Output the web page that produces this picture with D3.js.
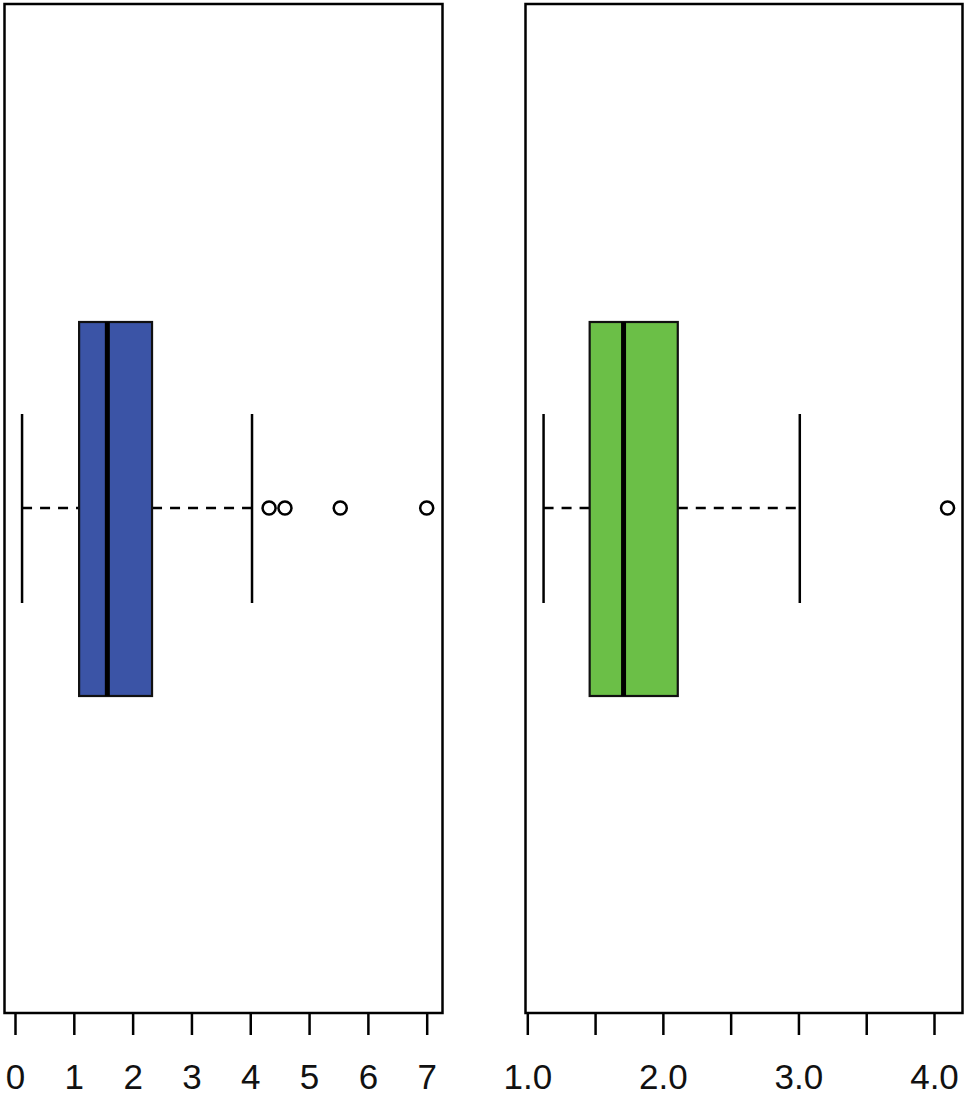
<!DOCTYPE html>
<html>
<head>
<meta charset="utf-8">
<script src="https://cdn.jsdelivr.net/npm/d3@7"></script>
<style>
  body { margin: 0; background: #fff; }
  svg text { font-family: "Liberation Sans", Arial, sans-serif; }
</style>
</head>
<body>
<div id="chart"></div>
<script>
// box stats: [lower whisker, Q1, median, Q3, upper whisker]
var leftStats = [0.12, 1.09, 1.57, 2.33, 4.03];
var leftOutliers = [4.32, 4.59, 5.53, 7.0];
var leftTicks = [0, 1, 2, 3, 4, 5, 6, 7];
var leftLabels = ["0", "1", "2", "3", "4", "5", "6", "7"];

var rightStats = [1.12, 1.46, 1.71, 2.11, 3.01];
var rightOutliers = [4.10];
var rightTicks = [1.0, 1.5, 2.0, 2.5, 3.0, 3.5, 4.0];
var rightLabels = ["1.0", "", "2.0", "", "3.0", "", "4.0"];

var W = 968, H = 1095;
var svg = d3.select("#chart").append("svg")
  .attr("width", W)
  .attr("height", H);

var panels = [
  { stats: leftStats, outliers: leftOutliers, ticks: leftTicks, labels: leftLabels,
    domain: [0, 7], range: [15, 426.7], frame: [4.5, 442.5], fill: "#3b54a6" },
  { stats: rightStats, outliers: rightOutliers, ticks: rightTicks, labels: rightLabels,
    domain: [1, 4], range: [527.3, 934], frame: [525.5, 962.5], fill: "#6bbf47" }
];

var plotTop = 4, plotBottom = 1013;
// box vertical geometry
var cy = 508, boxTop = 322, boxBot = 696, capTop = 414, capBot = 603;

panels.forEach(function(p) {
  var x = d3.scaleLinear().domain(p.domain).range(p.range);
  var g = svg.append("g");
  var s = p.stats;

  // whiskers (dashed)
  g.append("line")
    .attr("x1", x(s[0])).attr("x2", x(s[1]))
    .attr("y1", cy).attr("y2", cy)
    .attr("stroke", "#000").attr("stroke-width", 2.5)
    .attr("stroke-dasharray", "10,8");
  g.append("line")
    .attr("x1", x(s[3])).attr("x2", x(s[4]))
    .attr("y1", cy).attr("y2", cy)
    .attr("stroke", "#000").attr("stroke-width", 2.5)
    .attr("stroke-dasharray", "10,8");

  // whisker caps
  [s[0], s[4]].forEach(function(v) {
    g.append("line")
      .attr("x1", x(v)).attr("x2", x(v))
      .attr("y1", capTop).attr("y2", capBot)
      .attr("stroke", "#000").attr("stroke-width", 2.5);
  });

  // box
  g.append("rect")
    .attr("x", x(s[1])).attr("y", boxTop)
    .attr("width", x(s[3]) - x(s[1]))
    .attr("height", boxBot - boxTop)
    .attr("fill", p.fill)
    .attr("stroke", "#111").attr("stroke-width", 2.2);

  // median
  g.append("line")
    .attr("x1", x(s[2])).attr("x2", x(s[2]))
    .attr("y1", boxTop).attr("y2", boxBot)
    .attr("stroke", "#000").attr("stroke-width", 5);

  // outliers
  g.selectAll("circle")
    .data(p.outliers)
    .enter()
    .append("circle")
    .attr("cx", function(d) { return x(d); })
    .attr("cy", cy)
    .attr("r", 6.5)
    .attr("fill", "#fff")
    .attr("stroke", "#000").attr("stroke-width", 2.5);

  // frame
  g.append("rect")
    .attr("x", p.frame[0]).attr("y", plotTop)
    .attr("width", p.frame[1] - p.frame[0])
    .attr("height", plotBottom - plotTop)
    .attr("fill", "none")
    .attr("stroke", "#000").attr("stroke-width", 2.5);

  // x axis
  var axis = d3.axisBottom(x)
    .tickValues(p.ticks)
    .tickSize(22)
    .tickPadding(29)
    .tickFormat(function(d, i) { return p.labels[i]; });
  var ax = g.append("g")
    .attr("transform", "translate(0," + plotBottom + ")")
    .call(axis);
  ax.select(".domain").remove();
  ax.selectAll(".tick line").attr("stroke", "#000").attr("stroke-width", 2.5);
  ax.selectAll(".tick text")
    .attr("fill", "#111")
    .style("font-size", "35px");
});
</script>
</body>
</html>
